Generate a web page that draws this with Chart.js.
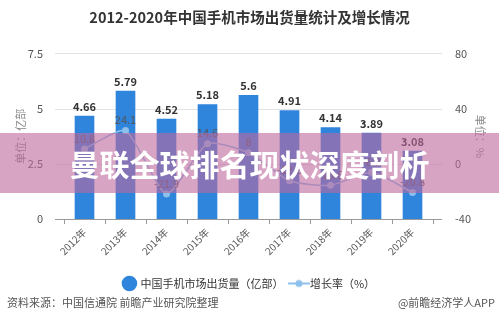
<!DOCTYPE html>
<html>
<head>
<meta charset="utf-8">
<script src="https://cdn.jsdelivr.net/npm/chart.js@4.4.0/dist/chart.umd.min.js"></script>
<style>
  body { margin: 0; background: #fff; font-family: "Noto Sans CJK SC", sans-serif; }
  #wrap { position: relative; width: 499px; height: 330px; overflow: hidden; }
  #chart { position: absolute; left: 0; top: 0; }
  .foot { position: absolute; top: 294px; font-size: 11px; color: #555; }
  #banner {
    position: absolute; left: 0; top: 133px; width: 499px; height: 60px;
    background: rgba(190, 103, 157, 0.6);
    color: #fff; font-weight: bold; font-size: 30px; line-height: 60px;
    text-align: center; letter-spacing: 0px;
  }
</style>
</head>
<body>
<div id="wrap">
  <canvas id="chart" width="499" height="330"></canvas>
  <div class="foot" style="left:7px;">资料来源：中国信通院 前瞻产业研究院整理</div>
  <div class="foot" style="right:4px;">@前瞻经济学人APP</div>
  <div id="banner">曼联全球排名现状深度剖析</div>
</div>
<script>
const years = ['2012年', '2013年', '2014年', '2015年', '2016年', '2017年', '2018年', '2019年', '2020年'];
const shipments = [4.66, 5.79, 4.52, 5.18, 5.6, 4.91, 4.14, 3.89, 3.08];
const growth = [10.8, 24.1, -21.9, 14.6, 8, -12.3, -15.6, -6.2, -20.8];
const leftTicks = [0, 2.5, 5, 7.5];
const rightTicks = [-40, 0, 40, 80];

const barColor = '#2f84dc';
const lineColor = '#8dc0ea';
const cjk = '"Noto Sans CJK SC", sans-serif';

// small icon for the line legend entry
const lineIcon = document.createElement('canvas');
lineIcon.width = 22; lineIcon.height = 10;
(function () {
    const c = lineIcon.getContext('2d');
    c.strokeStyle = lineColor; c.lineWidth = 2;
    c.beginPath(); c.moveTo(0, 5); c.lineTo(22, 5); c.stroke();
    c.fillStyle = lineColor;
    c.beginPath(); c.arc(11, 5, 3.5, 0, Math.PI * 2); c.fill();
})();

// horizontal grid lines, a bit wider than the plot area like the original
const gridPlugin = {
    id: 'wideGrid',
    beforeDatasetsDraw(chart) {
        const { ctx, chartArea } = chart;
        const y = chart.scales.y;
        ctx.save();
        leftTicks.forEach(function (v) {
            const py = Math.round(y.getPixelForValue(v)) + 0.5;
            ctx.strokeStyle = v === 0 ? '#9a9a9a' : '#e3e3e3';
            ctx.lineWidth = 1;
            ctx.beginPath();
            ctx.moveTo(chartArea.left - 9, py);
            ctx.lineTo(chartArea.right + 9, py);
            ctx.stroke();
        });
        ctx.restore();
    }
};

// value labels above bars and points
const labelPlugin = {
    id: 'valueLabels',
    afterDatasetsDraw(chart) {
        const ctx = chart.ctx;
        ctx.save();
        ctx.textAlign = 'center';
        ctx.textBaseline = 'bottom';
        chart.getDatasetMeta(0).data.forEach(function (el, i) {
            ctx.font = 'bold 11px ' + cjk;
            ctx.fillStyle = '#333';
            ctx.fillText(shipments[i], el.x, el.y - 4);
        });
        chart.getDatasetMeta(1).data.forEach(function (el, i) {
            ctx.font = '11px ' + cjk;
            ctx.fillStyle = '#555';
            ctx.fillText(growth[i], el.x, el.y - 5);
        });
        ctx.restore();
    }
};

new Chart(document.getElementById('chart'), {
    data: {
        labels: years,
        datasets: [{
            type: 'bar',
            label: '中国手机市场出货量（亿部）',
            data: shipments,
            backgroundColor: barColor,
            barThickness: 19,
            yAxisID: 'y',
            order: 2
        }, {
            type: 'line',
            label: '增长率（%）',
            data: growth,
            borderColor: lineColor,
            backgroundColor: lineColor,
            borderWidth: 1.5,
            pointRadius: 3.5,
            pointBackgroundColor: lineColor,
            pointBorderWidth: 0,
            tension: 0.2,
            yAxisID: 'y1',
            order: 1
        }]
    },
    options: {
        responsive: false,
        animation: false,
        layout: { padding: { bottom: 31 } },
        plugins: {
            title: {
                display: true,
                text: '2012-2020年中国手机市场出货量统计及增长情况',
                color: '#333',
                font: { family: cjk, size: 14.5, weight: 'bold' },
                padding: { top: 9, bottom: 27 }
            },
            legend: {
                position: 'bottom',
                labels: {
                    color: '#333',
                    font: { family: cjk, size: 11 },
                    usePointStyle: true,
                    padding: 10,
                    generateLabels(chart) {
                        return [{
                            text: '中国手机市场出货量（亿部）',
                            pointStyle: 'circle',
                            fillStyle: barColor,
                            strokeStyle: barColor,
                            lineWidth: 0,
                            datasetIndex: 0,
                            fontColor: '#333'
                        }, {
                            text: '增长率（%）',
                            pointStyle: lineIcon,
                            fillStyle: lineColor,
                            strokeStyle: lineColor,
                            lineWidth: 0,
                            datasetIndex: 1,
                            fontColor: '#333'
                        }];
                    }
                }
            },
            tooltip: { enabled: false }
        },
        scales: {
            x: {
                offset: true,
                grid: { display: true, drawOnChartArea: false, tickLength: 5, color: '#9a9a9a' },
                border: { display: false },
                ticks: {
                    color: '#555',
                    font: { family: cjk, size: 10 },
                    minRotation: 45,
                    maxRotation: 45,
                    padding: 2
                },
                afterFit(scale) { scale.height = 49; }
            },
            y: {
                position: 'left',
                min: 0,
                max: 7.5,
                afterBuildTicks(scale) { scale.ticks = leftTicks.map(v => ({ value: v })); },
                grid: { display: false },
                border: { display: false },
                ticks: { color: '#555', font: { family: cjk, size: 11 }, padding: 13 },
                title: {
                    display: true,
                    text: '单位：亿部',
                    color: '#888',
                    font: { family: cjk, size: 11 },
                    padding: { top: 14, bottom: 0 }
                },
                afterFit(scale) { scale.width = 64; }
            },
            y1: {
                position: 'right',
                min: -40,
                max: 80,
                afterBuildTicks(scale) { scale.ticks = rightTicks.map(v => ({ value: v })); },
                grid: { display: false },
                border: { display: false },
                ticks: { color: '#555', font: { family: cjk, size: 11 }, padding: 14 },
                title: {
                    display: true,
                    text: '单位：%',
                    color: '#888',
                    font: { family: cjk, size: 11 },
                    padding: { top: 12, bottom: 0 }
                },
                afterFit(scale) { scale.width = 66; }
            }
        }
    },
    plugins: [gridPlugin, labelPlugin]
});
</script>
</body>
</html>
